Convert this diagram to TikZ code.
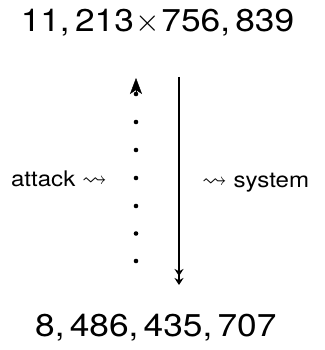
\documentclass[tikz,border=0pt]{standalone}
\usepackage{amssymb}
\usepackage{fontspec}
\setmainfont{TeX Gyre Heros}[FakeStretch=1.12]
\usetikzlibrary{arrows.meta}
% the math times sign, brought up to the size of the numbers
\newcommand{\bigtimes}{\kern2pt\scalebox{1.27}{\(\times\)}\kern1pt}
% a squiggly arrow at the size of the side labels
\newcommand{\wavyto}{\scalebox{1.15}{\(\leadsto\)}}
\begin{document}
\begin{tikzpicture}[x=1pt,y=-1pt,
  numlabel/.style={font=\fontsize{31.5}{36}\selectfont, inner sep=0pt, anchor=base},
  sidelabel/.style={font=\fontsize{21.5}{26}\selectfont, inner sep=0pt},
  dotnode/.style={circle, fill, inner sep=0pt, minimum size=4.6pt},
  headtip/.style={-{Stealth[length=16pt,width=12pt,inset=4pt]}},
  longarrow/.style={line width=1.8pt,
    -{Stealth[length=7pt,width=9pt,sep=2pt]Stealth[length=7pt,width=9pt]}},
]
\useasboundingbox (0,0) rectangle (324,350);

% the two numbers
\node[numlabel] (prod) at (157.5,31.7) {11,\,213\bigtimes756,\,839};
\node[numlabel] (sum) at (155.8,336.7) {8,\,486,\,435,\,707};

% dotted upward arrow
\foreach \i/\yy in {1/94,2/122,3/150,4/178,5/206,6/233.5,7/261}
  \node[dotnode] (d\i) at (136,\yy) {};
\coordinate (ltip) at (136,78);
\draw[headtip] (d1.center) -- (ltip);

% solid downward arrow
\coordinate (rtop) at (179,77);
\coordinate (rbot) at (179,285);
\draw[longarrow] (rtop) -- (rbot);

% side labels
\node[sidelabel, anchor=base east] (attack) at (107,186.5) {attack \wavyto};
\node[sidelabel, anchor=base west] (system) at (202,187) {\wavyto\ system};
\end{tikzpicture}
\end{document}
